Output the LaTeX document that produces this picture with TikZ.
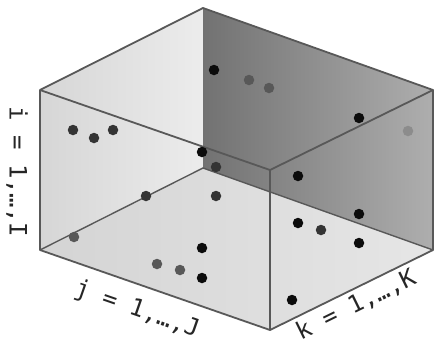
\documentclass[tikz,border=0pt]{standalone}
\usepackage{fontspec}
\newfontfamily\monofont{DejaVu Sans Mono}
\usetikzlibrary{calc}
\definecolor{edgegray}{RGB}{88,88,88}
\definecolor{backdark}{RGB}{114,114,114}
\definecolor{backlight}{RGB}{174,174,174}
\definecolor{sideleft}{RGB}{214,214,214}
\definecolor{sideright}{RGB}{236,236,236}
\definecolor{floorleft}{RGB}{212,212,212}
\definecolor{floorright}{RGB}{230,230,230}
\definecolor{dotblack}{RGB}{12,12,12}
\definecolor{dotdark}{RGB}{52,52,52}
\definecolor{dotmid}{RGB}{88,88,88}
\definecolor{dotlight}{RGB}{140,140,140}
\tikzset{
  boxedge/.style={draw=edgegray, line width=1.8pt, line join=round},
  hiddenedge/.style={draw=edgegray, line width=1.4pt},
  dot/.style={circle, inner sep=0pt, minimum size=10.5pt},
  blackdot/.style={dot, fill=dotblack},
  darkdot/.style={dot, fill=dotdark},
  middot/.style={dot, fill=dotmid},
  lightdot/.style={dot, fill=dotlight},
  axislabel/.style={font=\monofont\fontsize{24}{24}\selectfont, inner sep=0pt, text=black!85}
}

\begin{document}
\begin{tikzpicture}[x=1pt, y=-1pt]
  \useasboundingbox (0,0) rectangle (439,351);
  % corners of the box
  \coordinate (A) at (40,90);
  \coordinate (B) at (203,8);
  \coordinate (C) at (433,90);
  \coordinate (D) at (270,170);
  \coordinate (Ab) at (40,250);
  \coordinate (Bb) at (203,168);
  \coordinate (Cb) at (433,250);
  \coordinate (Db) at (270,330);

  % back faces and floor
  \shade[left color=sideleft, right color=sideright] (A) -- (B) -- (Bb) -- (Ab) -- cycle;
  \shade[left color=backdark, right color=backlight] (B) -- (C) -- (Cb) -- (Bb) -- cycle;
  \shade[left color=floorleft, right color=floorright] (Ab) -- (Bb) -- (Cb) -- (Db) -- cycle;

  % edges
  \draw[hiddenedge] (Ab) -- (Bb) -- (Cb);
  \draw[boxedge] (A) -- (B) -- (C) -- (D) -- cycle;
  \draw[boxedge] (A) -- (Ab) -- (Db) -- (Cb) -- (C);
  \draw[boxedge] (D) -- (Db);

  % points
  \node[blackdot] (p1) at (214,70) {};
  \node[middot] (p2) at (249,80) {};
  \node[middot] (p3) at (269,88) {};
  \node[blackdot] (p4) at (359,118) {};
  \node[lightdot] (p5) at (408,131) {};
  \node[darkdot] (p6) at (73,130) {};
  \node[darkdot] (p7) at (94,138) {};
  \node[darkdot] (p8) at (113,130) {};
  \node[blackdot] (p9) at (202,152) {};
  \node[darkdot] (p10) at (216,167) {};
  \node[blackdot] (p11) at (298,176) {};
  \node[darkdot] (p12) at (216,196) {};
  \node[darkdot] (p13) at (146,196) {};
  \node[middot] (p14) at (74,237) {};
  \node[blackdot] (p15) at (202,248) {};
  \node[middot] (p16) at (157,264) {};
  \node[middot] (p17) at (180,270) {};
  \node[blackdot] (p18) at (202,278) {};
  \node[blackdot] (p19) at (359,214) {};
  \node[blackdot] (p20) at (298,223) {};
  \node[darkdot] (p21) at (321,230) {};
  \node[blackdot] (p22) at (359,243) {};
  \node[blackdot] (p23) at (292,300) {};

  % index labels
  \node[axislabel, rotate=-90] (ilabel) at (17,172) {i = 1,…,I};
  \node[axislabel, rotate=-19.2] (jlabel) at (137,310) {j = 1,…,J};
  \node[axislabel, rotate=26.1] (klabel) at (356,305) {k = 1,…,K};
\end{tikzpicture}
\end{document}
